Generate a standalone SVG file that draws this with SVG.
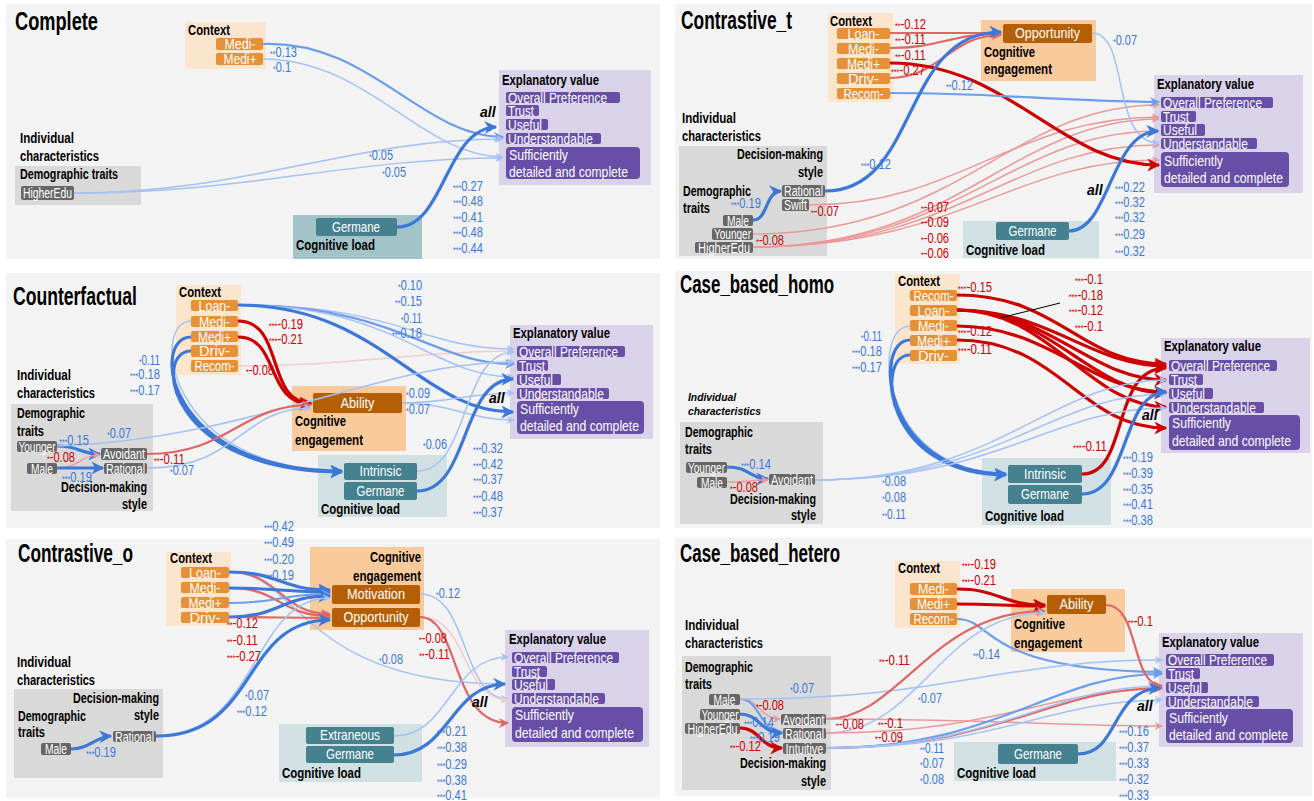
<svg xmlns="http://www.w3.org/2000/svg" width="1314" height="801" viewBox="0 0 1314 801">
<style>
svg{font-family:"Liberation Sans",Arial,sans-serif}
.pn{fill:#f3f3f3}
.ctx{fill:#fce5cd}.ce{fill:#f9cb9c}.ic{fill:#d9d9d9}.cl{fill:#d0e0e3}.cl1{fill:#a2c4c9}.ev{fill:#d9d2e9}
.no{fill:#e69138}.ng{fill:#666}.nt{fill:#45818e}.nb{fill:#b45f06}.np{fill:#674ea7}
text{font-size:14px}
.w{fill:#fff}.c{text-anchor:middle}.en{text-anchor:end}
.wp{fill:#fff;font-size:14.5px}
.h{font-weight:bold;font-size:14.5px;fill:#000}
.ttl{font-weight:bold;font-size:25px;fill:#000}
.hi{font-style:italic;font-weight:bold;font-size:10px}
.al{font-style:italic;font-weight:bold;font-size:14px}
.lb{font-size:14px;fill:#3c78d8}.lr{font-size:14px;fill:#cc0000}
.s{font-size:9px}
.e path{fill:none}
.b3{stroke:#3c78d8;stroke-width:3.2;marker-end:url(#mb3)}
.b2{stroke:#6d9eeb;stroke-width:2.2;marker-end:url(#mb2)}
.b1{stroke:#a4c2f4;stroke-width:1.5;marker-end:url(#mb1)}
.r3{stroke:#cc0000;stroke-width:3.2;marker-end:url(#mr3)}
.r2{stroke:#e06666;stroke-width:2.2;marker-end:url(#mr2)}
.r1{stroke:#ea9999;stroke-width:1.5;marker-end:url(#mr1)}
.r0{stroke:#f4cccc;stroke-width:1.5;marker-end:url(#mr0)}
</style>
<defs>
<marker id="mb3" viewBox="0 0 10 10" refX="9" refY="5" markerWidth="16" markerHeight="13" markerUnits="userSpaceOnUse" orient="auto"><path d="M0,0 L10,5 L0,10 L3,5z" fill="#3c78d8"/></marker>
<marker id="mb2" viewBox="0 0 10 10" refX="9" refY="5" markerWidth="13" markerHeight="10" markerUnits="userSpaceOnUse" orient="auto"><path d="M0,0 L10,5 L0,10 L3,5z" fill="#6d9eeb"/></marker>
<marker id="mb1" viewBox="0 0 10 10" refX="9" refY="5" markerWidth="11" markerHeight="8" markerUnits="userSpaceOnUse" orient="auto"><path d="M0,0 L10,5 L0,10 L3,5z" fill="#a4c2f4"/></marker>
<marker id="mr3" viewBox="0 0 10 10" refX="9" refY="5" markerWidth="16" markerHeight="13" markerUnits="userSpaceOnUse" orient="auto"><path d="M0,0 L10,5 L0,10 L3,5z" fill="#cc0000"/></marker>
<marker id="mr2" viewBox="0 0 10 10" refX="9" refY="5" markerWidth="13" markerHeight="10" markerUnits="userSpaceOnUse" orient="auto"><path d="M0,0 L10,5 L0,10 L3,5z" fill="#e06666"/></marker>
<marker id="mr1" viewBox="0 0 10 10" refX="9" refY="5" markerWidth="11" markerHeight="8" markerUnits="userSpaceOnUse" orient="auto"><path d="M0,0 L10,5 L0,10 L3,5z" fill="#ea9999"/></marker>
<marker id="mr0" viewBox="0 0 10 10" refX="9" refY="5" markerWidth="11" markerHeight="8" markerUnits="userSpaceOnUse" orient="auto"><path d="M0,0 L10,5 L0,10 L3,5z" fill="#f4cccc"/></marker>
</defs>
<rect width="1314" height="801" fill="#fff"/>
<rect class="pn" x="6" y="4" width="654" height="255"/>
<rect class="pn" x="675" y="4" width="637" height="255"/>
<rect class="pn" x="6" y="273" width="654" height="255"/>
<rect class="pn" x="675" y="271" width="637" height="257"/>
<rect class="pn" x="6" y="539" width="654" height="259"/>
<rect class="pn" x="675" y="538" width="637" height="258"/>

<!-- ========== Panel 1: Complete ========== -->
<text class="ttl" x="15" y="30" textLength="83" lengthAdjust="spacingAndGlyphs">Complete</text>
<g id="p1-context"><rect class="ctx" x="185" y="22" width="81" height="47"/><text class="h" x="188" y="35" textLength="42" lengthAdjust="spacingAndGlyphs">Context</text></g>
<g id="p1-medi-minus"><rect class="no" x="216" y="38" width="47" height="12" rx="2"/><text class="w c" x="240" y="49" textLength="31" lengthAdjust="spacingAndGlyphs">Medi-</text></g>
<g id="p1-medi-plus"><rect class="no" x="216" y="53" width="47" height="12" rx="2"/><text class="w c" x="240" y="64" textLength="33" lengthAdjust="spacingAndGlyphs">Medi+</text></g>
<g id="p1-individual"><text class="h" x="20" y="143" textLength="54" lengthAdjust="spacingAndGlyphs">Individual</text><text class="h" x="20" y="161" textLength="79" lengthAdjust="spacingAndGlyphs">characteristics</text></g>
<g id="p1-demographic"><rect class="ic" x="15" y="166" width="126" height="39"/><text class="h" x="20" y="179" textLength="98" lengthAdjust="spacingAndGlyphs">Demographic traits</text></g>
<g id="p1-higheredu"><rect class="ng" x="21" y="186" width="53" height="14" rx="2"/><text class="w c" x="47.5" y="198" textLength="49" lengthAdjust="spacingAndGlyphs">HigherEdu</text></g>
<g id="p1-cogload"><rect class="cl1" x="293" y="215" width="129" height="44"/><text class="h" x="296" y="250" textLength="79" lengthAdjust="spacingAndGlyphs">Cognitive load</text></g>
<g id="p1-germane"><rect class="nt" x="316" y="218" width="81" height="18" rx="2"/><text class="wp c" x="356" y="232" textLength="48" lengthAdjust="spacingAndGlyphs">Germane</text></g>
<g id="p1-explanatory"><rect class="ev" x="499" y="70" width="152" height="115"/><text class="h" x="502" y="85" textLength="97" lengthAdjust="spacingAndGlyphs">Explanatory value</text></g>
<g id="p1-op"><rect class="np" x="506" y="92" width="114" height="11" rx="2"/><text class="wp" x="508" y="103" textLength="99" lengthAdjust="spacingAndGlyphs">Overall Preference</text></g>
<g id="p1-trust"><rect class="np" x="506" y="105" width="33" height="11" rx="2"/><text class="wp" x="508" y="116" textLength="26" lengthAdjust="spacingAndGlyphs">Trust</text></g>
<g id="p1-useful"><rect class="np" x="506" y="119" width="42" height="11" rx="2"/><text class="wp" x="508" y="130" textLength="34" lengthAdjust="spacingAndGlyphs">Useful</text></g>
<g id="p1-understandable"><rect class="np" x="506" y="133" width="95" height="11" rx="2"/><text class="wp" x="508" y="144" textLength="85" lengthAdjust="spacingAndGlyphs">Understandable</text></g>
<g id="p1-sufficient"><rect class="np" x="506" y="147" width="134" height="32" rx="4"/><text class="wp" x="509" y="160" textLength="59" lengthAdjust="spacingAndGlyphs">Sufficiently</text><text class="wp" x="509" y="177" textLength="119" lengthAdjust="spacingAndGlyphs">detailed and complete</text></g>
<g class="e" id="p1-edges">
<path class="b2" d="M263,44 C370,40 420,136 503,137"/>
<path class="b1" d="M263,59 C370,60 420,156 503,157"/>
<path class="b1" d="M74,193 C250,193 350,139 503,139"/>
<path class="b1" d="M74,193 C250,193 350,158 503,158"/>
<path class="b3" d="M397,227 C445,227 445,129 496,127"/>
</g>
<g id="p1-labels">
<text class="lb" x="270" y="57" textLength="27" lengthAdjust="spacingAndGlyphs"><tspan class="s">**</tspan>0.13</text>
<text class="lb" x="273" y="72" textLength="18" lengthAdjust="spacingAndGlyphs"><tspan class="s">*</tspan>0.1</text>
<text class="lb" x="369" y="160" textLength="24" lengthAdjust="spacingAndGlyphs"><tspan class="s">*</tspan>0.05</text>
<text class="lb" x="382" y="177" textLength="24" lengthAdjust="spacingAndGlyphs"><tspan class="s">*</tspan>0.05</text>
<text class="al" x="480" y="117">all</text>
<text class="lb" x="453" y="191" textLength="30" lengthAdjust="spacingAndGlyphs"><tspan class="s">***</tspan>0.27</text>
<text class="lb" x="453" y="206" textLength="30" lengthAdjust="spacingAndGlyphs"><tspan class="s">***</tspan>0.48</text>
<text class="lb" x="453" y="222" textLength="30" lengthAdjust="spacingAndGlyphs"><tspan class="s">***</tspan>0.41</text>
<text class="lb" x="453" y="237" textLength="30" lengthAdjust="spacingAndGlyphs"><tspan class="s">***</tspan>0.48</text>
<text class="lb" x="453" y="253" textLength="30" lengthAdjust="spacingAndGlyphs"><tspan class="s">***</tspan>0.44</text>
</g>

<!-- ========== Panel 2: Contrastive_t ========== -->
<text class="ttl" x="681" y="29" textLength="111" lengthAdjust="spacingAndGlyphs">Contrastive_t</text>
<g id="p2-context"><rect class="ctx" x="828" y="13" width="65" height="89"/><text class="h" x="830" y="26" textLength="42" lengthAdjust="spacingAndGlyphs">Context</text></g>
<g id="p2-loan"><rect class="no" x="837" y="28" width="53" height="11" rx="2"/><text class="w c" x="863.5" y="39" textLength="32" lengthAdjust="spacingAndGlyphs">Loan-</text></g>
<g id="p2-medi-minus"><rect class="no" x="837" y="43" width="53" height="11" rx="2"/><text class="w c" x="863.5" y="54" textLength="31" lengthAdjust="spacingAndGlyphs">Medi-</text></g>
<g id="p2-medi-plus"><rect class="no" x="837" y="58" width="53" height="11" rx="2"/><text class="w c" x="863.5" y="69" textLength="33" lengthAdjust="spacingAndGlyphs">Medi+</text></g>
<g id="p2-driv"><rect class="no" x="837" y="73" width="53" height="11" rx="2"/><text class="w c" x="863.5" y="84" textLength="31" lengthAdjust="spacingAndGlyphs">Driv-</text></g>
<g id="p2-recom"><rect class="no" x="837" y="88" width="53" height="11" rx="2"/><text class="w c" x="863.5" y="99" textLength="40" lengthAdjust="spacingAndGlyphs">Recom-</text></g>
<g id="p2-individual"><text class="h" x="682" y="123" textLength="54" lengthAdjust="spacingAndGlyphs">Individual</text><text class="h" x="682" y="141" textLength="79" lengthAdjust="spacingAndGlyphs">characteristics</text></g>
<g id="p2-indbox"><rect class="ic" x="679" y="146" width="148" height="110"/><text class="h en" x="823" y="159" textLength="86" lengthAdjust="spacingAndGlyphs">Decision-making</text><text class="h en" x="823" y="177" textLength="25" lengthAdjust="spacingAndGlyphs">style</text><text class="h" x="683" y="196" textLength="68" lengthAdjust="spacingAndGlyphs">Demographic</text><text class="h" x="683" y="213" textLength="27" lengthAdjust="spacingAndGlyphs">traits</text></g>
<g id="p2-rational"><rect class="ng" x="782" y="185" width="43" height="12" rx="2"/><text class="w c" x="803.5" y="196" textLength="39" lengthAdjust="spacingAndGlyphs">Rational</text></g>
<g id="p2-swift"><rect class="ng" x="782" y="199" width="27" height="12" rx="2"/><text class="w c" x="795.5" y="210" textLength="23" lengthAdjust="spacingAndGlyphs">Swift</text></g>
<g id="p2-male"><rect class="ng" x="723" y="215" width="30" height="11" rx="2"/><text class="w c" x="738" y="226" textLength="22" lengthAdjust="spacingAndGlyphs">Male</text></g>
<g id="p2-younger"><rect class="ng" x="712" y="228" width="41" height="12" rx="2"/><text class="w c" x="732.5" y="239" textLength="37" lengthAdjust="spacingAndGlyphs">Younger</text></g>
<g id="p2-higheredu"><rect class="ng" x="695" y="242" width="58" height="11" rx="2"/><text class="w c" x="724" y="253" textLength="52" lengthAdjust="spacingAndGlyphs">HigherEdu</text></g>
<g id="p2-cogeng"><rect class="ce" x="981" y="20" width="115" height="61"/><text class="h" x="984" y="57" textLength="51" lengthAdjust="spacingAndGlyphs">Cognitive</text><text class="h" x="984" y="74" textLength="68" lengthAdjust="spacingAndGlyphs">engagement</text></g>
<g id="p2-opportunity"><rect class="nb" x="1003" y="24" width="89" height="19" rx="2"/><text class="wp c" x="1047.5" y="38" textLength="65" lengthAdjust="spacingAndGlyphs">Opportunity</text></g>
<g id="p2-explanatory"><rect class="ev" x="1154" y="75" width="149" height="118"/><text class="h" x="1157" y="89" textLength="97" lengthAdjust="spacingAndGlyphs">Explanatory value</text></g>
<g id="p2-op"><rect class="np" x="1161" y="97" width="112" height="11" rx="2"/><text class="wp" x="1163" y="108" textLength="99" lengthAdjust="spacingAndGlyphs">Overall Preference</text></g>
<g id="p2-trust"><rect class="np" x="1161" y="111" width="35" height="11" rx="2"/><text class="wp" x="1163" y="122" textLength="26" lengthAdjust="spacingAndGlyphs">Trust</text></g>
<g id="p2-useful"><rect class="np" x="1161" y="124" width="44" height="12" rx="2"/><text class="wp" x="1163" y="135" textLength="34" lengthAdjust="spacingAndGlyphs">Useful</text></g>
<g id="p2-understandable"><rect class="np" x="1161" y="138" width="96" height="11" rx="2"/><text class="wp" x="1163" y="149" textLength="85" lengthAdjust="spacingAndGlyphs">Understandable</text></g>
<g id="p2-sufficient"><rect class="np" x="1161" y="152" width="128" height="35" rx="4"/><text class="wp" x="1164" y="166" textLength="59" lengthAdjust="spacingAndGlyphs">Sufficiently</text><text class="wp" x="1164" y="183" textLength="119" lengthAdjust="spacingAndGlyphs">detailed and complete</text></g>
<g id="p2-cogload"><rect class="cl" x="963" y="221" width="136" height="37"/><text class="h" x="966" y="255" textLength="79" lengthAdjust="spacingAndGlyphs">Cognitive load</text></g>
<g id="p2-germane"><rect class="nt" x="996" y="222" width="73" height="18" rx="2"/><text class="wp c" x="1032.5" y="236" textLength="48" lengthAdjust="spacingAndGlyphs">Germane</text></g>
<g class="e" id="p2-edges">
<path class="r2" d="M890,33 C940,33 950,33 1001,33"/>
<path class="r2" d="M890,48 C940,48 950,34 1001,34"/>
<path class="r2" d="M890,78 C940,78 950,35 1001,35"/>
<path class="r1" d="M809,205 C960,205 1010,118 1159,117"/>
<path class="r1" d="M753,234 C960,234 1010,105 1159,105"/>
<path class="r1" d="M753,247 C960,247 1010,120 1159,119"/>
<path class="r1" d="M753,247 C960,247 1010,131 1159,131"/>
<path class="r1" d="M753,247 C960,247 1010,145 1159,145"/>
<path class="r1" d="M753,247 C960,247 1010,160 1159,160"/>
<path class="r3" d="M890,63 C1010,63 1060,165 1159,165"/>
<path class="b2" d="M890,93 C1000,93 1050,101 1159,102"/>
<path class="b3" d="M825,191 C920,191 900,32 1001,32"/>
<path class="b3" d="M753,220 C768,220 765,192 781,191"/>
<path class="b1" d="M1092,33 C1130,33 1110,143 1159,143"/>
<path class="b3" d="M1069,231 C1110,231 1110,132 1158,131"/>
</g>
<g id="p2-labels">
<text class="lr" x="895" y="29" textLength="31" lengthAdjust="spacingAndGlyphs"><tspan class="s">**</tspan>-0.12</text>
<text class="lr" x="895" y="44" textLength="31" lengthAdjust="spacingAndGlyphs"><tspan class="s">**</tspan>-0.11</text>
<text class="lr" x="895" y="60" textLength="31" lengthAdjust="spacingAndGlyphs"><tspan class="s">**</tspan>-0.11</text>
<text class="lr" x="891" y="75" textLength="34" lengthAdjust="spacingAndGlyphs"><tspan class="s">***</tspan>-0.27</text>
<text class="lb" x="946" y="90" textLength="27" lengthAdjust="spacingAndGlyphs"><tspan class="s">**</tspan>0.12</text>
<text class="lb" x="1113" y="45" textLength="24" lengthAdjust="spacingAndGlyphs"><tspan class="s">*</tspan>0.07</text>
<text class="lb" x="861" y="169" textLength="30" lengthAdjust="spacingAndGlyphs"><tspan class="s">***</tspan>0.12</text>
<text class="lb" x="731" y="208" textLength="30" lengthAdjust="spacingAndGlyphs"><tspan class="s">***</tspan>0.19</text>
<text class="lr" x="811" y="216" textLength="28" lengthAdjust="spacingAndGlyphs"><tspan class="s">*</tspan>-0.07</text>
<text class="lr" x="756" y="245" textLength="28" lengthAdjust="spacingAndGlyphs"><tspan class="s">*</tspan>-0.08</text>
<text class="lr" x="921" y="212" textLength="28" lengthAdjust="spacingAndGlyphs"><tspan class="s">*</tspan>-0.07</text>
<text class="lr" x="921" y="227" textLength="28" lengthAdjust="spacingAndGlyphs"><tspan class="s">*</tspan>-0.09</text>
<text class="lr" x="921" y="243" textLength="28" lengthAdjust="spacingAndGlyphs"><tspan class="s">*</tspan>-0.06</text>
<text class="lr" x="921" y="258" textLength="28" lengthAdjust="spacingAndGlyphs"><tspan class="s">*</tspan>-0.06</text>
<text class="al" x="1087" y="195">all</text>
<text class="lb" x="1115" y="192" textLength="30" lengthAdjust="spacingAndGlyphs"><tspan class="s">***</tspan>0.22</text>
<text class="lb" x="1115" y="207" textLength="30" lengthAdjust="spacingAndGlyphs"><tspan class="s">***</tspan>0.32</text>
<text class="lb" x="1115" y="222" textLength="30" lengthAdjust="spacingAndGlyphs"><tspan class="s">***</tspan>0.32</text>
<text class="lb" x="1115" y="239" textLength="30" lengthAdjust="spacingAndGlyphs"><tspan class="s">***</tspan>0.29</text>
<text class="lb" x="1115" y="256" textLength="30" lengthAdjust="spacingAndGlyphs"><tspan class="s">***</tspan>0.32</text>
</g>

<!-- ========== Panel 3: Counterfactual ========== -->
<text class="ttl" x="13" y="305" textLength="124" lengthAdjust="spacingAndGlyphs">Counterfactual</text>
<g id="p3-context"><rect class="ctx" x="176" y="285" width="65" height="90"/><text class="h" x="179" y="297" textLength="42" lengthAdjust="spacingAndGlyphs">Context</text></g>
<g id="p3-loan"><rect class="no" x="191" y="300" width="47" height="11" rx="2"/><text class="w c" x="214.5" y="311" textLength="32" lengthAdjust="spacingAndGlyphs">Loan-</text></g>
<g id="p3-medi-minus"><rect class="no" x="191" y="316" width="47" height="11" rx="2"/><text class="w c" x="214.5" y="327" textLength="31" lengthAdjust="spacingAndGlyphs">Medi-</text></g>
<g id="p3-medi-plus"><rect class="no" x="191" y="331" width="47" height="11" rx="2"/><text class="w c" x="214.5" y="342" textLength="33" lengthAdjust="spacingAndGlyphs">Medi+</text></g>
<g id="p3-driv"><rect class="no" x="191" y="345" width="47" height="12" rx="2"/><text class="w c" x="214.5" y="356" textLength="31" lengthAdjust="spacingAndGlyphs">Driv-</text></g>
<g id="p3-recom"><rect class="no" x="191" y="360" width="47" height="12" rx="2"/><text class="w c" x="214.5" y="371" textLength="40" lengthAdjust="spacingAndGlyphs">Recom-</text></g>
<g id="p3-individual"><text class="h" x="17" y="380" textLength="54" lengthAdjust="spacingAndGlyphs">Individual</text><text class="h" x="17" y="398" textLength="78" lengthAdjust="spacingAndGlyphs">characteristics</text></g>
<g id="p3-indbox"><rect class="ic" x="11" y="404" width="142" height="107"/><text class="h" x="17" y="418" textLength="68" lengthAdjust="spacingAndGlyphs">Demographic</text><text class="h" x="17" y="436" textLength="27" lengthAdjust="spacingAndGlyphs">traits</text><text class="h en" x="147" y="492" textLength="86" lengthAdjust="spacingAndGlyphs">Decision-making</text><text class="h en" x="147" y="509" textLength="25" lengthAdjust="spacingAndGlyphs">style</text></g>
<g id="p3-younger"><rect class="ng" x="17" y="441" width="40" height="11" rx="2"/><text class="w c" x="37" y="452" textLength="37" lengthAdjust="spacingAndGlyphs">Younger</text></g>
<g id="p3-male"><rect class="ng" x="27" y="463" width="30" height="11" rx="2"/><text class="w c" x="42" y="474" textLength="22" lengthAdjust="spacingAndGlyphs">Male</text></g>
<g id="p3-avoidant"><rect class="ng" x="101" y="448" width="46" height="12" rx="2"/><text class="w c" x="124" y="459" textLength="42" lengthAdjust="spacingAndGlyphs">Avoidant</text></g>
<g id="p3-rational"><rect class="ng" x="104" y="463" width="43" height="11" rx="2"/><text class="w c" x="125.5" y="474" textLength="39" lengthAdjust="spacingAndGlyphs">Rational</text></g>
<g id="p3-cogeng"><rect class="ce" x="292" y="386" width="114" height="65"/><text class="h" x="295" y="426" textLength="51" lengthAdjust="spacingAndGlyphs">Cognitive</text><text class="h" x="295" y="445" textLength="68" lengthAdjust="spacingAndGlyphs">engagement</text></g>
<g id="p3-ability"><rect class="nb" x="313" y="393" width="89" height="20" rx="2"/><text class="wp c" x="357.5" y="408" textLength="34" lengthAdjust="spacingAndGlyphs">Ability</text></g>
<g id="p3-cogload"><rect class="cl" x="318" y="455" width="129" height="62"/><text class="h" x="321" y="514" textLength="79" lengthAdjust="spacingAndGlyphs">Cognitive load</text></g>
<g id="p3-intrinsic"><rect class="nt" x="344" y="463" width="73" height="17" rx="2"/><text class="wp c" x="380.5" y="476" textLength="42" lengthAdjust="spacingAndGlyphs">Intrinsic</text></g>
<g id="p3-germane"><rect class="nt" x="344" y="482" width="73" height="18" rx="2"/><text class="wp c" x="380.5" y="496" textLength="48" lengthAdjust="spacingAndGlyphs">Germane</text></g>
<g id="p3-explanatory"><rect class="ev" x="510" y="325" width="143" height="114"/><text class="h" x="513" y="338" textLength="97" lengthAdjust="spacingAndGlyphs">Explanatory value</text></g>
<g id="p3-op"><rect class="np" x="517" y="346" width="108" height="11" rx="2"/><text class="wp" x="519" y="357" textLength="99" lengthAdjust="spacingAndGlyphs">Overall Preference</text></g>
<g id="p3-trust"><rect class="np" x="517" y="360" width="31" height="11" rx="2"/><text class="wp" x="519" y="371" textLength="26" lengthAdjust="spacingAndGlyphs">Trust</text></g>
<g id="p3-useful"><rect class="np" x="517" y="374" width="44" height="11" rx="2"/><text class="wp" x="519" y="385" textLength="34" lengthAdjust="spacingAndGlyphs">Useful</text></g>
<g id="p3-understandable"><rect class="np" x="517" y="388" width="92" height="11" rx="2"/><text class="wp" x="519" y="399" textLength="85" lengthAdjust="spacingAndGlyphs">Understandable</text></g>
<g id="p3-sufficient"><rect class="np" x="517" y="401" width="127" height="33" rx="4"/><text class="wp" x="520" y="414" textLength="59" lengthAdjust="spacingAndGlyphs">Sufficiently</text><text class="wp" x="520" y="431" textLength="119" lengthAdjust="spacingAndGlyphs">detailed and complete</text></g>
<g class="e" id="p3-edges">
<path class="r0" d="M238,366 C350,366 420,351 514,351"/>
<path class="b1" d="M238,305 C400,305 420,349 514,349"/>
<path class="b2" d="M238,305 C400,305 430,364 514,364"/>
<path class="b1" d="M238,305 C400,305 430,377 514,377"/>
<path class="b3" d="M238,305 C380,305 420,412 513,412"/>
<path class="b1" d="M191,321 C150,321 165,470 342,471"/>
<path class="b3" d="M191,337 C150,337 165,471 342,471"/>
<path class="b3" d="M191,351 C152,351 168,472 342,472"/>
<path class="r3" d="M238,321 C285,321 265,403 311,403"/>
<path class="r3" d="M238,337 C280,337 265,404 311,404"/>
<path class="b3" d="M57,446 C80,446 80,454 100,454"/>
<path class="r1" d="M57,468 C80,468 80,455 100,455"/>
<path class="b3" d="M57,468 L103,468"/>
<path class="b1" d="M57,446 C250,440 380,362 514,362"/>
<path class="r2" d="M147,454 C230,454 240,405 311,405"/>
<path class="b1" d="M147,468 C240,468 240,408 311,408"/>
<path class="b1" d="M402,403 C450,403 470,393 514,393"/>
<path class="b1" d="M402,403 C450,403 470,420 514,420"/>
<path class="b1" d="M417,471 C470,471 460,352 514,352"/>
<path class="b3" d="M417,491 C470,491 460,380 513,379"/>
</g>
<g id="p3-labels">
<text class="lr" x="269" y="329" textLength="34" lengthAdjust="spacingAndGlyphs"><tspan class="s">***</tspan>-0.19</text>
<text class="lr" x="269" y="344" textLength="34" lengthAdjust="spacingAndGlyphs"><tspan class="s">***</tspan>-0.21</text>
<text class="lr" x="246" y="375" textLength="28" lengthAdjust="spacingAndGlyphs"><tspan class="s">*</tspan>-0.08</text>
<text class="lb en" x="160" y="365" textLength="21" lengthAdjust="spacingAndGlyphs"><tspan class="s">*</tspan>0.11</text>
<text class="lb en" x="160" y="379" textLength="30" lengthAdjust="spacingAndGlyphs"><tspan class="s">***</tspan>0.18</text>
<text class="lb en" x="160" y="395" textLength="30" lengthAdjust="spacingAndGlyphs"><tspan class="s">***</tspan>0.17</text>
<text class="lb en" x="422" y="290" textLength="24" lengthAdjust="spacingAndGlyphs"><tspan class="s">*</tspan>0.10</text>
<text class="lb en" x="422" y="306" textLength="27" lengthAdjust="spacingAndGlyphs"><tspan class="s">**</tspan>0.15</text>
<text class="lb en" x="422" y="323" textLength="21" lengthAdjust="spacingAndGlyphs"><tspan class="s">*</tspan>0.11</text>
<text class="lb en" x="422" y="338" textLength="30" lengthAdjust="spacingAndGlyphs"><tspan class="s">***</tspan>0.18</text>
<text class="lb" x="59" y="445" textLength="30" lengthAdjust="spacingAndGlyphs"><tspan class="s">***</tspan>0.15</text>
<text class="lr" x="47" y="462" textLength="28" lengthAdjust="spacingAndGlyphs"><tspan class="s">*</tspan>-0.08</text>
<text class="lb" x="62" y="482" textLength="30" lengthAdjust="spacingAndGlyphs"><tspan class="s">***</tspan>0.19</text>
<text class="lb" x="107" y="438" textLength="24" lengthAdjust="spacingAndGlyphs"><tspan class="s">*</tspan>0.07</text>
<text class="lr" x="154" y="464" textLength="31" lengthAdjust="spacingAndGlyphs"><tspan class="s">**</tspan>-0.11</text>
<text class="lb" x="170" y="475" textLength="24" lengthAdjust="spacingAndGlyphs"><tspan class="s">*</tspan>0.07</text>
<text class="lb" x="406" y="398" textLength="24" lengthAdjust="spacingAndGlyphs"><tspan class="s">*</tspan>0.09</text>
<text class="lb" x="406" y="414" textLength="24" lengthAdjust="spacingAndGlyphs"><tspan class="s">*</tspan>0.07</text>
<text class="lb" x="423" y="449" textLength="24" lengthAdjust="spacingAndGlyphs"><tspan class="s">*</tspan>0.06</text>
<text class="al" x="489" y="403">all</text>
<text class="lb" x="473" y="453" textLength="30" lengthAdjust="spacingAndGlyphs"><tspan class="s">***</tspan>0.32</text>
<text class="lb" x="473" y="469" textLength="30" lengthAdjust="spacingAndGlyphs"><tspan class="s">***</tspan>0.42</text>
<text class="lb" x="473" y="484" textLength="30" lengthAdjust="spacingAndGlyphs"><tspan class="s">***</tspan>0.37</text>
<text class="lb" x="473" y="501" textLength="30" lengthAdjust="spacingAndGlyphs"><tspan class="s">***</tspan>0.48</text>
<text class="lb" x="473" y="517" textLength="30" lengthAdjust="spacingAndGlyphs"><tspan class="s">***</tspan>0.37</text>
</g>

<!-- ========== Panel 4: Case_based_homo ========== -->
<text class="ttl" x="680" y="293" textLength="154" lengthAdjust="spacingAndGlyphs">Case_based_homo</text>
<g id="p4-context"><rect class="ctx" x="895" y="274" width="65" height="90"/><text class="h" x="898" y="286" textLength="42" lengthAdjust="spacingAndGlyphs">Context</text></g>
<g id="p4-recom"><rect class="no" x="910" y="290" width="47" height="11" rx="2"/><text class="w c" x="933.5" y="301" textLength="40" lengthAdjust="spacingAndGlyphs">Recom-</text></g>
<g id="p4-loan"><rect class="no" x="910" y="305" width="47" height="11" rx="2"/><text class="w c" x="933.5" y="316" textLength="32" lengthAdjust="spacingAndGlyphs">Loan-</text></g>
<g id="p4-medi-minus"><rect class="no" x="910" y="320" width="47" height="11" rx="2"/><text class="w c" x="933.5" y="331" textLength="31" lengthAdjust="spacingAndGlyphs">Medi-</text></g>
<g id="p4-medi-plus"><rect class="no" x="910" y="335" width="47" height="11" rx="2"/><text class="w c" x="933.5" y="346" textLength="33" lengthAdjust="spacingAndGlyphs">Medi+</text></g>
<g id="p4-driv"><rect class="no" x="910" y="350" width="47" height="11" rx="2"/><text class="w c" x="933.5" y="361" textLength="31" lengthAdjust="spacingAndGlyphs">Driv-</text></g>
<g id="p4-individual"><text class="hi" x="688" y="401" textLength="48" lengthAdjust="spacingAndGlyphs">Individual</text><text class="hi" x="688" y="415" textLength="73" lengthAdjust="spacingAndGlyphs">characteristics</text></g>
<g id="p4-indbox"><rect class="ic" x="680" y="422" width="143" height="102"/><text class="h" x="685" y="437" textLength="68" lengthAdjust="spacingAndGlyphs">Demographic</text><text class="h" x="685" y="454" textLength="27" lengthAdjust="spacingAndGlyphs">traits</text><text class="h en" x="816" y="504" textLength="86" lengthAdjust="spacingAndGlyphs">Decision-making</text><text class="h en" x="816" y="520" textLength="25" lengthAdjust="spacingAndGlyphs">style</text></g>
<g id="p4-younger"><rect class="ng" x="686" y="462" width="41" height="11" rx="2"/><text class="w c" x="706.5" y="473" textLength="37" lengthAdjust="spacingAndGlyphs">Younger</text></g>
<g id="p4-male"><rect class="ng" x="697" y="477" width="30" height="11" rx="2"/><text class="w c" x="712" y="488" textLength="22" lengthAdjust="spacingAndGlyphs">Male</text></g>
<g id="p4-avoidant"><rect class="ng" x="769" y="474" width="46" height="11" rx="2"/><text class="w c" x="792" y="485" textLength="42" lengthAdjust="spacingAndGlyphs">Avoidant</text></g>
<g id="p4-cogload"><rect class="cl" x="982" y="458" width="129" height="67"/><text class="h" x="985" y="521" textLength="79" lengthAdjust="spacingAndGlyphs">Cognitive load</text></g>
<g id="p4-intrinsic"><rect class="nt" x="1008" y="465" width="74" height="18" rx="2"/><text class="wp c" x="1045" y="479" textLength="42" lengthAdjust="spacingAndGlyphs">Intrinsic</text></g>
<g id="p4-germane"><rect class="nt" x="1008" y="485" width="74" height="19" rx="2"/><text class="wp c" x="1045" y="499" textLength="48" lengthAdjust="spacingAndGlyphs">Germane</text></g>
<g id="p4-explanatory"><rect class="ev" x="1161" y="338" width="149" height="115"/><text class="h" x="1164" y="351" textLength="97" lengthAdjust="spacingAndGlyphs">Explanatory value</text></g>
<g id="p4-op"><rect class="np" x="1169" y="360" width="108" height="11" rx="2"/><text class="wp" x="1171" y="371" textLength="99" lengthAdjust="spacingAndGlyphs">Overall Preference</text></g>
<g id="p4-trust"><rect class="np" x="1169" y="374" width="34" height="11" rx="2"/><text class="wp" x="1171" y="385" textLength="26" lengthAdjust="spacingAndGlyphs">Trust</text></g>
<g id="p4-useful"><rect class="np" x="1169" y="388" width="44" height="11" rx="2"/><text class="wp" x="1171" y="399" textLength="34" lengthAdjust="spacingAndGlyphs">Useful</text></g>
<g id="p4-understandable"><rect class="np" x="1169" y="402" width="95" height="11" rx="2"/><text class="wp" x="1171" y="413" textLength="85" lengthAdjust="spacingAndGlyphs">Understandable</text></g>
<g id="p4-sufficient"><rect class="np" x="1169" y="415" width="131" height="35" rx="4"/><text class="wp" x="1172" y="428" textLength="59" lengthAdjust="spacingAndGlyphs">Sufficiently</text><text class="wp" x="1172" y="446" textLength="119" lengthAdjust="spacingAndGlyphs">detailed and complete</text></g>
<g class="e" id="p4-edges">
<path class="b1" d="M910,326 C870,326 880,473 1006,473"/>
<path class="b3" d="M910,340 C872,340 882,474 1006,474"/>
<path class="b3" d="M910,355 C874,355 884,475 1006,475"/>
<path class="r3" d="M957,295 C1060,295 1080,364 1166,364"/>
<path class="r3" d="M957,310 C1050,310 1090,366 1166,366"/>
<path class="r3" d="M957,310 C1050,310 1090,380 1166,380"/>
<path class="r3" d="M957,310 C1050,310 1090,393 1166,393"/>
<path class="r3" d="M957,310 C1050,310 1090,407 1166,407"/>
<path class="r3" d="M957,326 C1050,326 1090,392 1166,392"/>
<path class="r3" d="M957,340 C1060,340 1080,428 1166,428"/>
<path class="r3" d="M1082,474 C1130,474 1110,368 1166,368"/>
<path class="b3" d="M727,467 C750,467 750,479 768,479"/>
<path class="r1" d="M727,482 C750,482 750,480 768,480"/>
<path class="b1" d="M815,480 C1000,480 1050,380 1166,380"/>
<path class="b1" d="M815,480 C1000,480 1050,394 1166,394"/>
<path class="b1" d="M815,480 C1000,480 1050,408 1166,408"/>
<path class="b3" d="M1082,494 C1130,494 1120,393 1166,392"/>
<path d="M1000,318 L1060,303" stroke="#000" stroke-width="1"/>
</g>
<g id="p4-labels">
<text class="lr" x="958" y="292" textLength="34" lengthAdjust="spacingAndGlyphs"><tspan class="s">***</tspan>-0.15</text>
<text class="lr" x="958" y="336" textLength="34" lengthAdjust="spacingAndGlyphs"><tspan class="s">***</tspan>-0.12</text>
<text class="lr" x="958" y="354" textLength="34" lengthAdjust="spacingAndGlyphs"><tspan class="s">***</tspan>-0.11</text>
<text class="lr en" x="1103" y="284" textLength="28" lengthAdjust="spacingAndGlyphs"><tspan class="s">***</tspan>-0.1</text>
<text class="lr en" x="1103" y="300" textLength="34" lengthAdjust="spacingAndGlyphs"><tspan class="s">***</tspan>-0.18</text>
<text class="lr en" x="1103" y="315" textLength="34" lengthAdjust="spacingAndGlyphs"><tspan class="s">***</tspan>-0.12</text>
<text class="lr en" x="1103" y="331" textLength="28" lengthAdjust="spacingAndGlyphs"><tspan class="s">***</tspan>-0.1</text>
<text class="lb en" x="882" y="341" textLength="21" lengthAdjust="spacingAndGlyphs"><tspan class="s">*</tspan>0.11</text>
<text class="lb en" x="882" y="356" textLength="30" lengthAdjust="spacingAndGlyphs"><tspan class="s">***</tspan>0.18</text>
<text class="lb en" x="882" y="372" textLength="30" lengthAdjust="spacingAndGlyphs"><tspan class="s">***</tspan>0.17</text>
<text class="lb" x="741" y="469" textLength="30" lengthAdjust="spacingAndGlyphs"><tspan class="s">***</tspan>0.14</text>
<text class="lr" x="730" y="492" textLength="28" lengthAdjust="spacingAndGlyphs"><tspan class="s">*</tspan>-0.08</text>
<text class="lb en" x="906" y="486" textLength="24" lengthAdjust="spacingAndGlyphs"><tspan class="s">*</tspan>0.08</text>
<text class="lb en" x="906" y="502" textLength="24" lengthAdjust="spacingAndGlyphs"><tspan class="s">*</tspan>0.08</text>
<text class="lb en" x="906" y="519" textLength="24" lengthAdjust="spacingAndGlyphs"><tspan class="s">**</tspan>0.11</text>
<text class="lr" x="1073" y="451" textLength="34" lengthAdjust="spacingAndGlyphs"><tspan class="s">***</tspan>-0.11</text>
<text class="al" x="1142" y="420">all</text>
<text class="lb" x="1123" y="462" textLength="30" lengthAdjust="spacingAndGlyphs"><tspan class="s">***</tspan>0.19</text>
<text class="lb" x="1123" y="478" textLength="30" lengthAdjust="spacingAndGlyphs"><tspan class="s">***</tspan>0.39</text>
<text class="lb" x="1123" y="494" textLength="30" lengthAdjust="spacingAndGlyphs"><tspan class="s">***</tspan>0.35</text>
<text class="lb" x="1123" y="509" textLength="30" lengthAdjust="spacingAndGlyphs"><tspan class="s">***</tspan>0.41</text>
<text class="lb" x="1123" y="525" textLength="30" lengthAdjust="spacingAndGlyphs"><tspan class="s">***</tspan>0.38</text>
</g>

<!-- ========== Panel 5: Contrastive_o ========== -->
<text class="ttl" x="18" y="562" textLength="115" lengthAdjust="spacingAndGlyphs">Contrastive_o</text>
<g id="p5-context"><rect class="ctx" x="166" y="552" width="65" height="74"/><text class="h" x="170" y="563" textLength="42" lengthAdjust="spacingAndGlyphs">Context</text></g>
<g id="p5-loan"><rect class="no" x="181" y="567" width="48" height="11" rx="2"/><text class="w c" x="205" y="578" textLength="32" lengthAdjust="spacingAndGlyphs">Loan-</text></g>
<g id="p5-medi-minus"><rect class="no" x="181" y="582" width="48" height="11" rx="2"/><text class="w c" x="205" y="593" textLength="31" lengthAdjust="spacingAndGlyphs">Medi-</text></g>
<g id="p5-medi-plus"><rect class="no" x="181" y="597" width="48" height="11" rx="2"/><text class="w c" x="205" y="608" textLength="33" lengthAdjust="spacingAndGlyphs">Medi+</text></g>
<g id="p5-driv"><rect class="no" x="181" y="612" width="48" height="11" rx="2"/><text class="w c" x="205" y="623" textLength="31" lengthAdjust="spacingAndGlyphs">Driv-</text></g>
<g id="p5-individual"><text class="h" x="17" y="667" textLength="54" lengthAdjust="spacingAndGlyphs">Individual</text><text class="h" x="17" y="685" textLength="78" lengthAdjust="spacingAndGlyphs">characteristics</text></g>
<g id="p5-indbox"><rect class="ic" x="14" y="689" width="149" height="89"/><text class="h en" x="159" y="703" textLength="86" lengthAdjust="spacingAndGlyphs">Decision-making</text><text class="h en" x="159" y="720" textLength="25" lengthAdjust="spacingAndGlyphs">style</text><text class="h" x="18" y="721" textLength="68" lengthAdjust="spacingAndGlyphs">Demographic</text><text class="h" x="18" y="737" textLength="27" lengthAdjust="spacingAndGlyphs">traits</text></g>
<g id="p5-male"><rect class="ng" x="41" y="743" width="30" height="12" rx="2"/><text class="w c" x="56" y="754" textLength="22" lengthAdjust="spacingAndGlyphs">Male</text></g>
<g id="p5-rational"><rect class="ng" x="113" y="731" width="43" height="11" rx="2"/><text class="w c" x="134.5" y="742" textLength="39" lengthAdjust="spacingAndGlyphs">Rational</text></g>
<g id="p5-cogeng"><rect class="ce" x="310" y="547" width="114" height="83"/><text class="h en" x="421" y="562" textLength="51" lengthAdjust="spacingAndGlyphs">Cognitive</text><text class="h en" x="421" y="581" textLength="68" lengthAdjust="spacingAndGlyphs">engagement</text></g>
<g id="p5-motivation"><rect class="nb" x="332" y="585" width="88" height="19" rx="2"/><text class="wp c" x="376" y="599" textLength="58" lengthAdjust="spacingAndGlyphs">Motivation</text></g>
<g id="p5-opportunity"><rect class="nb" x="332" y="608" width="88" height="19" rx="2"/><text class="wp c" x="376" y="622" textLength="65" lengthAdjust="spacingAndGlyphs">Opportunity</text></g>
<g id="p5-explanatory"><rect class="ev" x="505" y="630" width="144" height="117"/><text class="h" x="509" y="644" textLength="97" lengthAdjust="spacingAndGlyphs">Explanatory value</text></g>
<g id="p5-op"><rect class="np" x="512" y="652" width="107" height="11" rx="2"/><text class="wp" x="514" y="663" textLength="99" lengthAdjust="spacingAndGlyphs">Overall Preference</text></g>
<g id="p5-trust"><rect class="np" x="512" y="666" width="35" height="11" rx="2"/><text class="wp" x="514" y="677" textLength="26" lengthAdjust="spacingAndGlyphs">Trust</text></g>
<g id="p5-useful"><rect class="np" x="512" y="679" width="43" height="11" rx="2"/><text class="wp" x="514" y="690" textLength="34" lengthAdjust="spacingAndGlyphs">Useful</text></g>
<g id="p5-understandable"><rect class="np" x="512" y="693" width="93" height="11" rx="2"/><text class="wp" x="514" y="704" textLength="85" lengthAdjust="spacingAndGlyphs">Understandable</text></g>
<g id="p5-sufficient"><rect class="np" x="512" y="707" width="131" height="35" rx="4"/><text class="wp" x="515" y="720" textLength="59" lengthAdjust="spacingAndGlyphs">Sufficiently</text><text class="wp" x="515" y="738" textLength="119" lengthAdjust="spacingAndGlyphs">detailed and complete</text></g>
<g id="p5-cogload"><rect class="cl" x="279" y="724" width="143" height="58"/><text class="h" x="282" y="778" textLength="79" lengthAdjust="spacingAndGlyphs">Cognitive load</text></g>
<g id="p5-extraneous"><rect class="nt" x="306" y="727" width="88" height="17" rx="2"/><text class="wp c" x="350" y="740" textLength="60" lengthAdjust="spacingAndGlyphs">Extraneous</text></g>
<g id="p5-germane"><rect class="nt" x="306" y="746" width="88" height="17" rx="2"/><text class="wp c" x="350" y="759" textLength="48" lengthAdjust="spacingAndGlyphs">Germane</text></g>
<g class="e" id="p5-edges">
<path class="b1" d="M229,572 C300,572 300,683 503,684"/>
<path class="r2" d="M229,572 C280,572 280,614 330,614"/>
<path class="r2" d="M229,588 C280,588 280,616 330,616"/>
<path class="r2" d="M229,617 C280,617 280,618 330,618"/>
<path class="b3" d="M229,572 C280,572 280,590 330,590"/>
<path class="b3" d="M229,588 C280,588 280,592 330,592"/>
<path class="b2" d="M229,603 C280,603 280,594 330,594"/>
<path class="b3" d="M229,617 C280,617 280,596 330,596"/>
<path class="b1" d="M156,736 C260,736 250,598 330,598"/>
<path class="b3" d="M156,736 C260,736 240,620 330,620"/>
<path class="b3" d="M71,749 C90,749 95,737 111,736"/>
<path class="b1" d="M420,594 C470,594 460,699 508,699"/>
<path class="r0" d="M420,617 C470,617 460,700 508,700"/>
<path class="r2" d="M420,617 C460,617 450,723 508,723"/>
<path class="b1" d="M394,736 C450,736 450,657 508,657"/>
<path class="b3" d="M394,755 C450,755 450,685 505,684"/>
</g>
<g id="p5-labels">
<text class="lb" x="264" y="531" textLength="30" lengthAdjust="spacingAndGlyphs"><tspan class="s">***</tspan>0.42</text>
<text class="lb" x="264" y="547" textLength="30" lengthAdjust="spacingAndGlyphs"><tspan class="s">***</tspan>0.49</text>
<text class="lb" x="264" y="564" textLength="30" lengthAdjust="spacingAndGlyphs"><tspan class="s">***</tspan>0.20</text>
<text class="lb" x="264" y="580" textLength="30" lengthAdjust="spacingAndGlyphs"><tspan class="s">***</tspan>0.19</text>
<text class="lr" x="227" y="628" textLength="31" lengthAdjust="spacingAndGlyphs"><tspan class="s">**</tspan>-0.12</text>
<text class="lr" x="227" y="645" textLength="31" lengthAdjust="spacingAndGlyphs"><tspan class="s">**</tspan>-0.11</text>
<text class="lr" x="227" y="661" textLength="34" lengthAdjust="spacingAndGlyphs"><tspan class="s">***</tspan>-0.27</text>
<text class="lb" x="245" y="700" textLength="24" lengthAdjust="spacingAndGlyphs"><tspan class="s">*</tspan>0.07</text>
<text class="lb" x="237" y="716" textLength="30" lengthAdjust="spacingAndGlyphs"><tspan class="s">***</tspan>0.12</text>
<text class="lb" x="86" y="757" textLength="30" lengthAdjust="spacingAndGlyphs"><tspan class="s">***</tspan>0.19</text>
<text class="lb" x="436" y="598" textLength="24" lengthAdjust="spacingAndGlyphs"><tspan class="s">*</tspan>0.12</text>
<text class="lr" x="419" y="643" textLength="28" lengthAdjust="spacingAndGlyphs"><tspan class="s">*</tspan>-0.08</text>
<text class="lr" x="419" y="659" textLength="31" lengthAdjust="spacingAndGlyphs"><tspan class="s">**</tspan>-0.11</text>
<text class="lb" x="379" y="664" textLength="24" lengthAdjust="spacingAndGlyphs"><tspan class="s">*</tspan>0.08</text>
<text class="al" x="472" y="707">all</text>
<text class="lb" x="437" y="736" textLength="30" lengthAdjust="spacingAndGlyphs"><tspan class="s">***</tspan>0.21</text>
<text class="lb" x="437" y="752" textLength="30" lengthAdjust="spacingAndGlyphs"><tspan class="s">***</tspan>0.38</text>
<text class="lb" x="437" y="769" textLength="30" lengthAdjust="spacingAndGlyphs"><tspan class="s">***</tspan>0.29</text>
<text class="lb" x="437" y="785" textLength="30" lengthAdjust="spacingAndGlyphs"><tspan class="s">***</tspan>0.38</text>
<text class="lb" x="437" y="800" textLength="30" lengthAdjust="spacingAndGlyphs"><tspan class="s">***</tspan>0.41</text>
</g>

<!-- ========== Panel 6: Case_based_hetero ========== -->
<text class="ttl" x="680" y="562" textLength="160" lengthAdjust="spacingAndGlyphs">Case_based_hetero</text>
<g id="p6-context"><rect class="ctx" x="895" y="561" width="65" height="67"/><text class="h" x="898" y="573" textLength="42" lengthAdjust="spacingAndGlyphs">Context</text></g>
<g id="p6-medi-minus"><rect class="no" x="910" y="583" width="47" height="12" rx="2"/><text class="w c" x="933.5" y="594" textLength="31" lengthAdjust="spacingAndGlyphs">Medi-</text></g>
<g id="p6-medi-plus"><rect class="no" x="910" y="598" width="47" height="12" rx="2"/><text class="w c" x="933.5" y="609" textLength="33" lengthAdjust="spacingAndGlyphs">Medi+</text></g>
<g id="p6-recom"><rect class="no" x="910" y="613" width="47" height="12" rx="2"/><text class="w c" x="933.5" y="624" textLength="40" lengthAdjust="spacingAndGlyphs">Recom-</text></g>
<g id="p6-individual"><text class="h" x="685" y="630" textLength="54" lengthAdjust="spacingAndGlyphs">Individual</text><text class="h" x="685" y="648" textLength="78" lengthAdjust="spacingAndGlyphs">characteristics</text></g>
<g id="p6-indbox"><rect class="ic" x="682" y="656" width="149" height="134"/><text class="h" x="685" y="672" textLength="68" lengthAdjust="spacingAndGlyphs">Demographic</text><text class="h" x="685" y="689" textLength="27" lengthAdjust="spacingAndGlyphs">traits</text><text class="h en" x="826" y="768" textLength="86" lengthAdjust="spacingAndGlyphs">Decision-making</text><text class="h en" x="826" y="786" textLength="25" lengthAdjust="spacingAndGlyphs">style</text></g>
<g id="p6-male"><rect class="ng" x="709" y="694" width="31" height="11" rx="2"/><text class="w c" x="724.5" y="705" textLength="22" lengthAdjust="spacingAndGlyphs">Male</text></g>
<g id="p6-younger"><rect class="ng" x="700" y="709" width="40" height="11" rx="2"/><text class="w c" x="720" y="720" textLength="37" lengthAdjust="spacingAndGlyphs">Younger</text></g>
<g id="p6-higheredu"><rect class="ng" x="685" y="723" width="55" height="11" rx="2"/><text class="w c" x="712.5" y="734" textLength="50" lengthAdjust="spacingAndGlyphs">HigherEdu</text></g>
<g id="p6-avoidant"><rect class="ng" x="781" y="714" width="45" height="11" rx="2"/><text class="w c" x="803.5" y="725" textLength="42" lengthAdjust="spacingAndGlyphs">Avoidant</text></g>
<g id="p6-rational"><rect class="ng" x="783" y="728" width="43" height="11" rx="2"/><text class="w c" x="804.5" y="739" textLength="39" lengthAdjust="spacingAndGlyphs">Rational</text></g>
<g id="p6-intuitive"><rect class="ng" x="783" y="743" width="43" height="11" rx="2"/><text class="w c" x="804.5" y="754" textLength="38" lengthAdjust="spacingAndGlyphs">Intuitive</text></g>
<g id="p6-cogeng"><rect class="ce" x="1011" y="589" width="114" height="63"/><text class="h" x="1014" y="629" textLength="51" lengthAdjust="spacingAndGlyphs">Cognitive</text><text class="h" x="1014" y="648" textLength="68" lengthAdjust="spacingAndGlyphs">engagement</text></g>
<g id="p6-ability"><rect class="nb" x="1047" y="595" width="59" height="19" rx="2"/><text class="wp c" x="1076.5" y="609" textLength="34" lengthAdjust="spacingAndGlyphs">Ability</text></g>
<g id="p6-explanatory"><rect class="ev" x="1159" y="633" width="144" height="114"/><text class="h" x="1162" y="647" textLength="97" lengthAdjust="spacingAndGlyphs">Explanatory value</text></g>
<g id="p6-op"><rect class="np" x="1166" y="654" width="108" height="12" rx="2"/><text class="wp" x="1168" y="665" textLength="99" lengthAdjust="spacingAndGlyphs">Overall Preference</text></g>
<g id="p6-trust"><rect class="np" x="1166" y="668" width="34" height="11" rx="2"/><text class="wp" x="1168" y="679" textLength="26" lengthAdjust="spacingAndGlyphs">Trust</text></g>
<g id="p6-useful"><rect class="np" x="1166" y="682" width="42" height="11" rx="2"/><text class="wp" x="1168" y="693" textLength="34" lengthAdjust="spacingAndGlyphs">Useful</text></g>
<g id="p6-understandable"><rect class="np" x="1166" y="696" width="93" height="11" rx="2"/><text class="wp" x="1168" y="707" textLength="85" lengthAdjust="spacingAndGlyphs">Understandable</text></g>
<g id="p6-sufficient"><rect class="np" x="1166" y="709" width="127" height="34" rx="4"/><text class="wp" x="1169" y="723" textLength="59" lengthAdjust="spacingAndGlyphs">Sufficiently</text><text class="wp" x="1169" y="740" textLength="119" lengthAdjust="spacingAndGlyphs">detailed and complete</text></g>
<g id="p6-cogload"><rect class="cl" x="954" y="742" width="162" height="39"/><text class="h" x="957" y="778" textLength="79" lengthAdjust="spacingAndGlyphs">Cognitive load</text></g>
<g id="p6-germane"><rect class="nt" x="998" y="744" width="80" height="20" rx="2"/><text class="wp c" x="1038" y="759" textLength="48" lengthAdjust="spacingAndGlyphs">Germane</text></g>
<g class="e" id="p6-edges">
<path class="r3" d="M957,589 C1000,589 1000,605 1045,605"/>
<path class="r3" d="M957,604 C1000,604 1000,606 1045,606"/>
<path class="b2" d="M957,619 C995,619 980,670 1162,672"/>
<path class="r1" d="M740,699 C760,699 760,719 780,719"/>
<path class="b2" d="M740,699 C760,699 760,732 782,732"/>
<path class="b3" d="M740,714 C760,714 760,733 782,733"/>
<path class="r3" d="M740,728 C760,728 760,748 782,748"/>
<path class="b1" d="M740,699 C950,699 1000,660 1162,660"/>
<path class="r2" d="M826,719 C900,719 930,611 1045,611"/>
<path class="r1" d="M826,719 C1000,719 1050,726 1162,726"/>
<path class="b1" d="M826,733 C920,733 940,613 1045,613"/>
<path class="r1" d="M826,733 C1000,733 1050,689 1162,689"/>
<path class="r2" d="M826,748 C1000,748 1050,688 1162,688"/>
<path class="b2" d="M826,748 C1000,748 1050,674 1162,674"/>
<path class="b1" d="M826,748 C1000,748 1050,700 1162,700"/>
<path class="b1" d="M826,748 C1000,748 1050,686 1162,686"/>
<path class="r2" d="M1106,605 C1140,605 1130,685 1162,686"/>
<path class="b3" d="M1078,754 C1120,754 1110,690 1160,688"/>
</g>
<g id="p6-labels">
<text class="lr" x="962" y="569" textLength="34" lengthAdjust="spacingAndGlyphs"><tspan class="s">***</tspan>-0.19</text>
<text class="lr" x="962" y="585" textLength="34" lengthAdjust="spacingAndGlyphs"><tspan class="s">***</tspan>-0.21</text>
<text class="lr" x="756" y="710" textLength="28" lengthAdjust="spacingAndGlyphs"><tspan class="s">*</tspan>-0.08</text>
<text class="lb" x="744" y="727" textLength="30" lengthAdjust="spacingAndGlyphs"><tspan class="s">***</tspan>0.14</text>
<text class="lb" x="750" y="742" textLength="30" lengthAdjust="spacingAndGlyphs"><tspan class="s">***</tspan>0.19</text>
<text class="lr" x="730" y="751" textLength="31" lengthAdjust="spacingAndGlyphs"><tspan class="s">**</tspan>-0.12</text>
<text class="lb" x="790" y="693" textLength="24" lengthAdjust="spacingAndGlyphs"><tspan class="s">*</tspan>0.07</text>
<text class="lr" x="879" y="665" textLength="31" lengthAdjust="spacingAndGlyphs"><tspan class="s">**</tspan>-0.11</text>
<text class="lb" x="918" y="703" textLength="24" lengthAdjust="spacingAndGlyphs"><tspan class="s">*</tspan>0.07</text>
<text class="lr" x="836" y="729" textLength="28" lengthAdjust="spacingAndGlyphs"><tspan class="s">*</tspan>-0.08</text>
<text class="lr" x="878" y="728" textLength="25" lengthAdjust="spacingAndGlyphs"><tspan class="s">**</tspan>-0.1</text>
<text class="lr" x="875" y="742" textLength="28" lengthAdjust="spacingAndGlyphs"><tspan class="s">*</tspan>-0.09</text>
<text class="lb" x="920" y="753" textLength="24" lengthAdjust="spacingAndGlyphs"><tspan class="s">**</tspan>0.11</text>
<text class="lb" x="920" y="768" textLength="24" lengthAdjust="spacingAndGlyphs"><tspan class="s">*</tspan>0.07</text>
<text class="lb" x="920" y="784" textLength="24" lengthAdjust="spacingAndGlyphs"><tspan class="s">*</tspan>0.08</text>
<text class="lb" x="973" y="659" textLength="27" lengthAdjust="spacingAndGlyphs"><tspan class="s">**</tspan>0.14</text>
<text class="lr" x="1128" y="626" textLength="25" lengthAdjust="spacingAndGlyphs"><tspan class="s">**</tspan>-0.1</text>
<text class="al" x="1137" y="711">all</text>
<text class="lb" x="1119" y="736" textLength="30" lengthAdjust="spacingAndGlyphs"><tspan class="s">***</tspan>0.16</text>
<text class="lb" x="1119" y="752" textLength="30" lengthAdjust="spacingAndGlyphs"><tspan class="s">***</tspan>0.37</text>
<text class="lb" x="1119" y="768" textLength="30" lengthAdjust="spacingAndGlyphs"><tspan class="s">***</tspan>0.33</text>
<text class="lb" x="1119" y="784" textLength="30" lengthAdjust="spacingAndGlyphs"><tspan class="s">***</tspan>0.32</text>
<text class="lb" x="1119" y="800" textLength="30" lengthAdjust="spacingAndGlyphs"><tspan class="s">***</tspan>0.33</text>
</g>
</svg>
